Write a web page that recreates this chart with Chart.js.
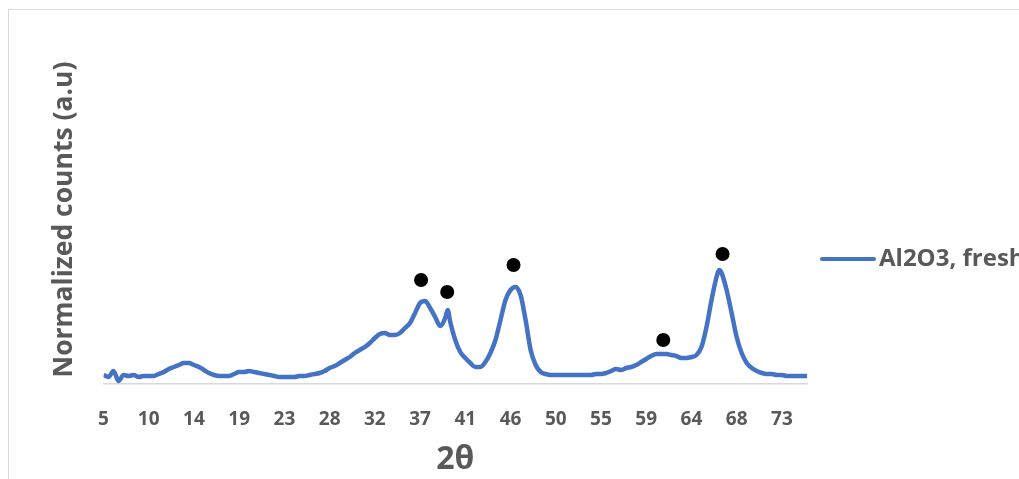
<!DOCTYPE html>
<html>
<head>
<meta charset="utf-8">
<title>Al2O3 XRD</title>
<script src="https://cdn.jsdelivr.net/npm/chart.js@4.4.1/dist/chart.umd.min.js"></script>
<style>
    html, body { margin: 0; padding: 0; background: #fff; overflow: hidden; }
    #frame {
        position: absolute; left: 8px; top: 9px;
        width: 1100px; height: 600px;
        border: 1px solid #d9d9d9;
    }
    #xrd { position: absolute; left: 0; top: 0; }
</style>
</head>
<body>
<div id="frame"></div>
<canvas id="xrd" width="1019" height="479"></canvas>
<script>
// diffraction angle (2 theta, degrees)
const twoTheta = [
    5, 5.5, 6, 6.5, 7, 7.5, 8, 8.5, 9, 9.5,
    10, 10.5, 11, 11.5, 12, 12.5, 13, 13.5, 14, 14.5,
    15, 15.5, 16, 16.5, 17, 17.5, 18, 18.5, 19, 19.5,
    20, 20.5, 21, 21.5, 22, 22.5, 23, 23.5, 24, 24.5,
    25, 25.5, 26, 26.5, 27, 27.5, 28, 28.5, 29, 29.5,
    30, 30.5, 31, 31.5, 32, 32.5, 33, 33.5, 34, 34.5,
    35, 35.5, 36, 36.5, 37, 37.5, 38, 38.5, 39, 39.25, 39.5,
    40, 40.5, 41, 41.5, 42, 42.5, 43, 43.5, 44, 44.5,
    45, 45.5, 46, 46.5, 47, 47.5, 48, 48.5, 49, 49.5,
    50, 50.5, 51, 51.5, 52, 52.5, 53, 53.5, 54, 54.5,
    55, 55.5, 56, 56.5, 57, 57.5, 58, 58.5, 59, 59.5,
    60, 60.5, 61, 61.5, 62, 62.5, 63, 63.5, 64, 64.5,
    65, 65.5, 66, 66.25, 66.5, 67, 67.5, 68, 68.5, 69, 69.5,
    70, 70.5, 71, 71.5, 72, 72.5, 73, 73.5, 74, 74.5, 75
];

// normalized counts, Al2O3 fresh
const counts = [
    9, 7, 13, 3, 9, 8, 9, 7, 8, 8,
    8, 10, 12, 15, 17, 19, 21, 21, 19, 17,
    14, 11, 9, 8, 8, 8, 10, 12, 12, 13,
    12, 11, 10, 9, 8, 7, 7, 7, 7, 8,
    8, 9, 10, 11, 13, 16, 18, 21, 24, 27,
    31, 34, 37, 41, 46, 50, 51, 49, 49, 51,
    56, 61, 71, 81, 83, 76, 67, 58, 66, 74, 62,
    44, 32, 26, 21, 17, 17, 22, 31, 44, 64,
    84, 94, 97, 89, 64, 34, 19, 12, 10, 9,
    9, 9, 9, 9, 9, 9, 9, 9, 10, 10,
    11, 13, 15, 14, 16, 17, 19, 22, 25, 28,
    30, 30, 30, 29, 28, 26, 26, 27, 29, 37,
    57, 84, 107, 114, 111, 94, 71, 47, 31, 21, 16,
    13, 11, 10, 10, 9, 9, 8, 8, 8, 8, 8
];

// reflection markers above the alumina peaks
const markTheta = [36.6, 39.2, 45.8, 60.7, 66.6];
const markCounts = [104, 92, 119, 44, 130];

// x tick positions and their printed labels
const tickTheta = [5, 9.5, 14, 18.5, 23, 27.5, 32, 36.5, 41, 45.5, 50, 54.5, 59, 63.5, 68, 72.5];
const tickLabels = ['5', '10', '14', '19', '23', '28', '32', '37', '41', '46', '50', '55', '59', '64', '68', '73'];

const seriesName = 'Al2O3, fresh';
const blue = '#4472C4';
const grey = '#595959';

Chart.defaults.font.family = "'Open Sans', sans-serif";
Chart.defaults.color = grey;

// legend entry on the right, Excel style
const sideLegend = {
    id: 'sideLegend',
    afterDraw(chart) {
        const ctx = chart.ctx;
        const x0 = chart.chartArea.right + 15;
        const y = 259;
        ctx.save();
        ctx.strokeStyle = blue;
        ctx.lineWidth = 4;
        ctx.lineCap = 'round';
        ctx.beginPath();
        ctx.moveTo(x0, y);
        ctx.lineTo(x0 + 52, y);
        ctx.stroke();
        ctx.fillStyle = grey;
        ctx.font = "bold 24px 'Open Sans'";
        ctx.textBaseline = 'middle';
        ctx.fillText(seriesName, x0 + 57, y);
        ctx.restore();
    }
};

const ctx = document.getElementById('xrd').getContext('2d');
new Chart(ctx, {
    data: {
        datasets: [
            {
                type: 'line',
                label: seriesName,
                data: twoTheta.map((t, i) => ({ x: t, y: counts[i] })),
                borderColor: blue,
                borderWidth: 4.5,
                pointRadius: 0,
                cubicInterpolationMode: 'monotone',
                order: 2
            },
            {
                type: 'scatter',
                label: 'markers',
                data: markTheta.map((t, i) => ({ x: t, y: markCounts[i] })),
                backgroundColor: '#000',
                borderWidth: 0,
                pointRadius: 7,
                order: 1
            }
        ]
    },
    options: {
        responsive: false,
        animation: false,
        layout: { padding: { left: 45, right: 212, top: 55, bottom: 0 } },
        plugins: {
            legend: { display: false },
            tooltip: { enabled: false }
        },
        scales: {
            x: {
                type: 'linear',
                min: 5,
                max: 75,
                afterBuildTicks: scale => {
                    scale.ticks = tickTheta.map(v => ({ value: v }));
                },
                ticks: {
                    autoSkip: false,
                    maxRotation: 0,
                    padding: 24,
                    color: grey,
                    font: { size: 19, weight: 'bold' },
                    callback: (value, index) => tickLabels[index]
                },
                grid: { display: false, drawTicks: false },
                border: { display: true, color: '#d9d9d9', width: 1.5 },
                title: {
                    display: true,
                    text: '2θ',
                    color: grey,
                    font: { size: 32, weight: 'bold' },
                    padding: { top: -14.2, bottom: 0 }
                }
            },
            y: {
                min: 0,
                max: 329,
                ticks: { display: false },
                grid: { display: false, drawTicks: false },
                border: { display: false },
                title: {
                    display: true,
                    text: 'Normalized counts (a.u)',
                    color: grey,
                    font: { size: 26.5, weight: 'bold' },
                    padding: { top: 4, bottom: 22.7 }
                }
            }
        }
    },
    plugins: [sideLegend]
});
</script>
</body>
</html>
